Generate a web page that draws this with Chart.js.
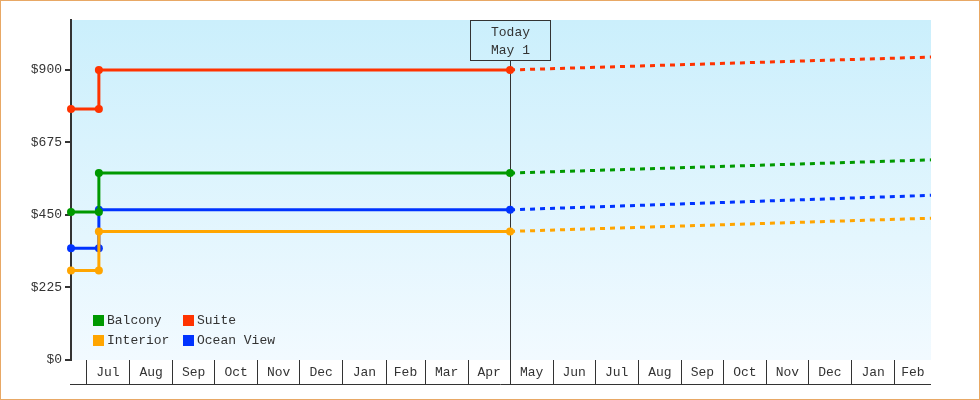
<!DOCTYPE html>
<html>
<head>
<meta charset="utf-8">
<title>Cabin prices</title>
<script src="https://cdn.jsdelivr.net/npm/chart.js@4.4.1/dist/chart.umd.min.js"></script>
<style>
  html, body { margin: 0; padding: 0; background: #fff; }
  #priceChart { display: block; outline: 1px solid #e8a865; outline-offset: -1px; }
</style>
</head>
<body>
<canvas id="priceChart" width="980" height="400"></canvas>
<script>
// Room types and colours
const roomTypes = ['Balcony', 'Suite', 'Interior', 'Ocean View'];
const roomColors = ['#009900', '#ff3300', '#ffa500', '#0033ff'];

// Price history (solid)
const historyDates = ['2024-06-20', '2024-07-10', '2024-07-10', '2025-05-01'];
const balconyHistory = [459, 459, 580, 580];
const suiteHistory = [779, 779, 900, 900];
const interiorHistory = [278, 278, 399, 399];
const oceanViewHistory = [347, 347, 466, 466];

// Forecast (dashed)
const forecastDates = ['2025-05-01', '2026-02-27'];
const balconyForecast = [580, 621];
const suiteForecast = [900, 940];
const interiorForecast = [399, 440];
const oceanViewForecast = [466, 511];

// Axes
const axisStart = '2024-06-20';
const axisEnd = '2026-02-27';
const todayDate = '2025-05-01';
const todayLabel = ['Today', 'May 1'];
const monthNames = ['Jan', 'Feb', 'Mar', 'Apr', 'May', 'Jun', 'Jul', 'Aug', 'Sep', 'Oct', 'Nov', 'Dec'];
const yTicks = [0, 225, 450, 675, 900];
const yMax = 1055;

const day = s => Date.UTC(+s.slice(0, 4), +s.slice(5, 7) - 1, +s.slice(8, 10)) / 86400000;
const xMin = day(axisStart);
const xMax = day(axisEnd);

// month boundaries and label positions
const monthStarts = [];
const monthLabels = new Map();
{
    let y = +axisStart.slice(0, 4), m = +axisStart.slice(5, 7); // next month after start
    while (true) {
        if (m === 12) { y++; m = 1; } else { m++; }
        const start = Date.UTC(y, m - 1, 1) / 86400000;
        if (start > xMax) break;
        const next = Date.UTC(m === 12 ? y + 1 : y, m === 12 ? 0 : m, 1) / 86400000;
        monthStarts.push(start);
        monthLabels.set((start + Math.min(next, xMax)) / 2, monthNames[m - 1]);
    }
}
const xTickValues = monthStarts.concat([...monthLabels.keys()]).sort((a, b) => a - b);

const toPoints = (dates, values) => dates.map((d, i) => ({ x: day(d), y: values[i] }));
const histories = [balconyHistory, suiteHistory, interiorHistory, oceanViewHistory];
const forecasts = [balconyForecast, suiteForecast, interiorForecast, oceanViewForecast];

const datasets = [];
roomTypes.forEach((name, i) => {
    datasets.push({
        label: name,
        data: toPoints(historyDates, histories[i]),
        borderColor: roomColors[i],
        backgroundColor: roomColors[i],
        borderWidth: 3,
        pointRadius: 4,
        pointHoverRadius: 4,
        pointBorderWidth: 0,
        clip: false
    });
});
roomTypes.forEach((name, i) => {
    datasets.push({
        label: name + ' forecast',
        data: toPoints(forecastDates, forecasts[i]),
        borderColor: roomColors[i],
        borderWidth: 3,
        borderDash: [5, 5],
        pointRadius: 0,
        clip: false
    });
});

const fontFamily = '"Liberation Mono", "DejaVu Sans Mono", monospace';
Chart.defaults.font.family = fontFamily;
Chart.defaults.font.size = 13;
Chart.defaults.color = '#333';

const decor = {
    id: 'decor',
    beforeDraw(chart) {
        const { ctx, chartArea: a } = chart;
        ctx.save();
        ctx.fillStyle = '#fff';
        ctx.fillRect(0, 0, chart.width, chart.height);
        const g = ctx.createLinearGradient(0, a.top, 0, a.bottom);
        g.addColorStop(0, '#cbeffc');
        g.addColorStop(1, '#f2faff');
        ctx.fillStyle = g;
        ctx.fillRect(a.left, a.top, a.right - a.left, a.bottom - a.top);
        ctx.restore();
    },
    beforeDatasetsDraw(chart) {
        // today marker
        const { ctx, chartArea: a } = chart;
        const x = Math.round(chart.scales.x.getPixelForValue(day(todayDate))) + 0.5;
        ctx.save();
        ctx.strokeStyle = '#333';
        ctx.lineWidth = 1;
        ctx.strokeRect(x - 40, a.top + 0.5, 80, 40);
        ctx.beginPath();
        ctx.moveTo(x, a.top + 40.5);
        ctx.lineTo(x, a.bottom);
        ctx.stroke();
        ctx.fillStyle = '#333';
        ctx.font = '13px ' + fontFamily;
        ctx.textAlign = 'center';
        ctx.textBaseline = 'middle';
        ctx.fillText(todayLabel[0], x, a.top + 13);
        ctx.fillText(todayLabel[1], x, a.top + 31);
        ctx.restore();
    },
    afterDraw(chart) {
        const { ctx, chartArea: a } = chart;
        ctx.save();
        // bottom line of the month strip
        ctx.strokeStyle = '#333';
        ctx.lineWidth = 1;
        ctx.beginPath();
        ctx.moveTo(a.left - 1, a.bottom + 24.5);
        ctx.lineTo(a.right, a.bottom + 24.5);
        ctx.stroke();
        // legend
        ctx.font = '13px ' + fontFamily;
        ctx.textBaseline = 'middle';
        ctx.textAlign = 'left';
        roomTypes.forEach((name, i) => {
            const lx = a.left + 22 + (i % 2) * 90;
            const ly = a.top + 300 + Math.floor(i / 2) * 20;
            ctx.fillStyle = roomColors[i];
            ctx.fillRect(lx, ly - 5, 11, 11);
            ctx.fillStyle = '#333';
            ctx.fillText(name, lx + 14, ly + 1);
        });
        ctx.restore();
    }
};

new Chart(document.getElementById('priceChart'), {
    type: 'line',
    data: { datasets },
    options: {
        responsive: false,
        animation: false,
        events: [],
        layout: { padding: { left: 0, top: 20, right: 49, bottom: 15 } },
        plugins: { legend: { display: false }, tooltip: { enabled: false } },
        scales: {
            x: {
                type: 'linear',
                min: xMin,
                max: xMax,
                afterBuildTicks: s => { s.ticks = xTickValues.map(v => ({ value: v })); },
                afterFit: s => { s.height = 25; },
                border: { display: false },
                grid: {
                    drawOnChartArea: false,
                    tickLength: 25,
                    lineWidth: 1,
                    color: c => (c.tick && monthStarts.includes(c.tick.value)) ? '#333' : 'rgba(0,0,0,0)'
                },
                ticks: {
                    autoSkip: false,
                    maxRotation: 0,
                    padding: -20,
                    color: '#333',
                    callback: v => monthLabels.get(v) || ''
                }
            },
            y: {
                min: 0,
                max: yMax,
                afterBuildTicks: s => { s.ticks = yTicks.map(v => ({ value: v })); },
                afterFit: s => { s.width = 71; },
                border: { color: '#333', width: 2 },
                grid: { drawOnChartArea: false, tickLength: 6, color: '#333', lineWidth: 2 },
                ticks: { padding: 3, color: '#333', callback: v => '$' + v }
            }
        }
    },
    plugins: [decor]
});
</script>
</body>
</html>
